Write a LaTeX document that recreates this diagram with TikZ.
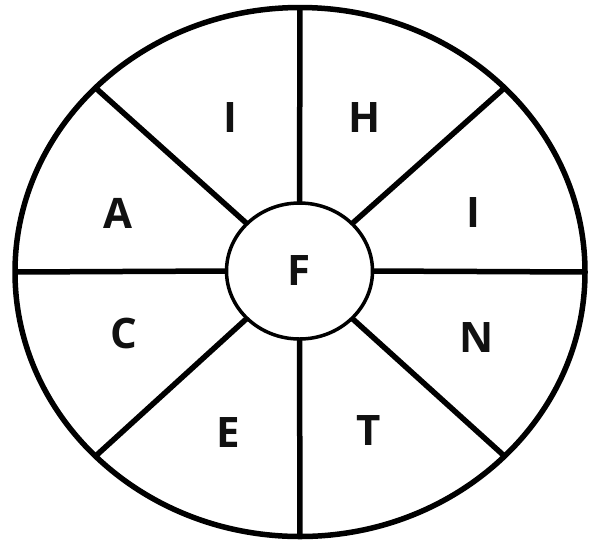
\documentclass[tikz,border=0pt]{standalone}
\usepackage{fontspec}
\setmainfont{Open Sans}
\usepackage{xcolor}
\definecolor{cLine}{HTML}{000000}
\definecolor{cText}{HTML}{111111}
\usepackage{tikz}
\usetikzlibrary{positioning,shapes.geometric}
\tikzset{
  node-rim/.style={draw=cLine,line width=5.5pt,ellipse,outer sep=0pt,
    inner sep=0pt,minimum width=570pt,minimum height=529pt},
  node-hub/.style={draw=cLine,line width=3.5pt,ellipse,outer sep=0pt,
    inner sep=0pt,minimum width=146pt,minimum height=136pt},
  node-letter/.style={font=\fontsize{42}{50}\selectfont\bfseries,
    text=cText,inner sep=0pt},
  spoke/.style={draw=cLine,line width=5.5pt},
}

\begin{document}
\begin{tikzpicture}[x=1pt,y=-1pt]
  \useasboundingbox (0,0) rectangle (602,542);
  \node[node-rim] (rim) at (300,272) {};
  \node[node-hub] (hub) at (299.5,271) {};
  % eight spokes from the hub out to the rim
  \foreach \a in {0,42,90,138,180,222,270,318}
    \draw[spoke] (hub.\a) -- (rim.\a);
  \node[node-letter] (f) at (hub.center) {F};
  \node[node-letter] (i1) at (230,118) {I};
  \node[node-letter] (h) at (365,118) {H};
  \node[node-letter] (a) at (118,213) {A};
  \node[node-letter] (i2) at (473,213) {I};
  \node[node-letter] (c) at (124,333) {C};
  \node[node-letter] (n) at (477,337) {N};
  \node[node-letter] (e) at (228,432) {E};
  \node[node-letter] (t) at (369,430) {T};
\end{tikzpicture}
\end{document}
